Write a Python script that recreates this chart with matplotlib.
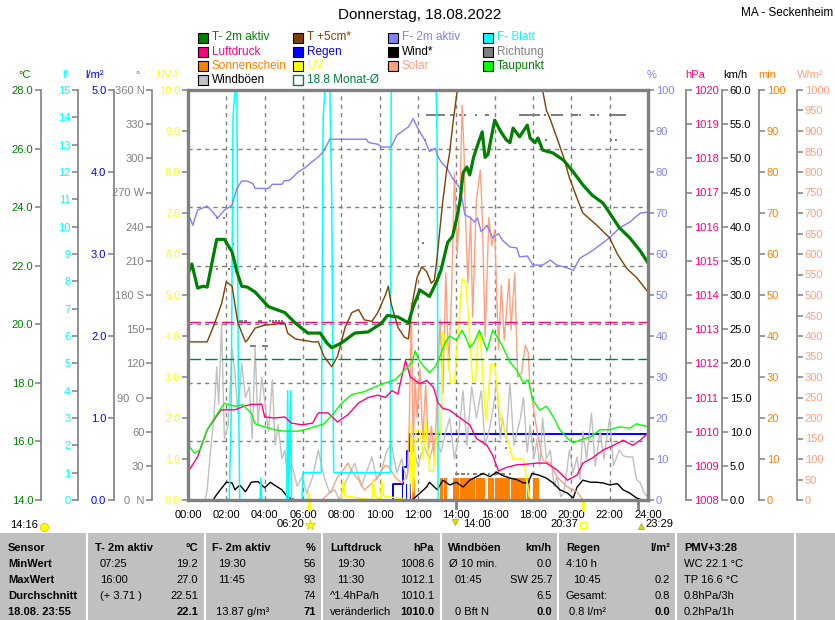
import numpy as np
import matplotlib
matplotlib.use('Agg')
import matplotlib.pyplot as plt
from matplotlib.patches import Rectangle
from matplotlib.lines import Line2D
from matplotlib.transforms import blended_transform_factory

plt.rcParams['font.family'] = ['Liberation Sans', 'DejaVu Sans']
plt.rcParams['font.size'] = 8

# ---------------- data (hours, values) ----------------
t2m_t = [0, 0.2, 0.5, 0.8, 1.0, 1.25, 1.5, 1.9, 2.3, 2.55, 2.8, 3.1, 3.5, 4.2, 5.05, 5.6, 6.25, 6.9, 7.25, 7.5,
         8.0, 8.7, 9.4, 10.1, 10.4, 10.95, 11.5, 11.75, 12.1, 12.6, 13.0, 13.2, 13.55, 13.8, 14.0, 14.2, 14.35,
         14.55, 14.7, 14.9, 15.15, 15.35, 15.5, 15.65, 16.0, 16.3, 16.6, 16.8, 16.96, 17.3, 17.7, 17.85, 18.1,
         18.26, 18.5, 19.04, 19.6, 20.1, 20.6, 21.1, 21.65, 22.0, 22.5, 23.05, 23.6, 24.0]
t2m_v = [21.7, 22.06, 21.24, 21.3, 21.27, 22.1, 22.9, 22.9, 22.47, 21.8, 21.3, 21.27, 21.1, 20.6, 20.4, 20.04,
         19.7, 19.7, 19.36, 19.2, 19.36, 19.7, 19.74, 20.04, 20.3, 20.25, 20.05, 20.6, 21.17, 20.95, 21.5, 21.85,
         22.8, 23.0, 23.56, 24.24, 25.17, 25.37, 25.1, 25.7, 26.2, 26.57, 25.7, 25.8, 26.97, 26.6, 26.3, 26.2,
         26.7, 26.4, 26.8, 26.36, 26.2, 26.36, 25.95, 25.85, 25.6, 25.2, 24.76, 24.4, 24.14, 23.8, 23.3, 22.95,
         22.5, 22.1]

t5_t = [0, 1.0, 1.4, 1.75, 2.0, 2.3, 2.6, 3.0, 3.1, 3.5, 4.0, 5.05, 5.2, 5.6, 6.5, 6.8, 7.1, 7.5, 7.8, 8.2, 8.55,
        8.9, 9.2, 9.6, 9.9, 10.3, 10.45, 10.6, 10.95, 11.3, 11.5, 11.7, 11.95, 12.2, 12.45, 12.7, 12.85, 13.0,
        13.15, 13.3, 13.5, 13.65, 13.8, 14.05, 14.6, 16.0, 17.5, 18.5, 18.7, 18.9, 19.25, 19.6, 19.9, 20.3, 20.6,
        21.3, 22.0, 22.4, 22.9, 23.4, 24.0]
t5_v = [19.4, 19.4, 20.05, 20.7, 21.45, 21.3, 20.05, 19.4, 19.46, 19.87, 19.97, 20.04, 19.7, 19.5, 19.4, 19.4,
        18.9, 18.55, 18.9, 19.9, 20.4, 20.5, 20.15, 20.1, 20.4, 21.0, 21.3, 20.7, 19.9, 19.55, 19.5, 20.7, 21.6,
        21.96, 21.8, 21.4, 21.5, 22.3, 23.3, 24.24, 25.27, 25.85, 26.74, 28.0, 30.5, 32.0, 30.5, 28.0, 27.3, 27.0,
        26.36, 25.7, 25.0, 24.3, 23.8, 23.4, 22.95, 22.4, 21.9, 21.6, 21.1]

hum_t = [0, 0.25, 0.5, 1.0, 1.3, 1.55, 1.9, 2.3, 2.55, 2.8, 3.1, 3.4, 3.5, 4.2, 4.4, 4.9, 5.0, 5.3, 5.75, 6.1, 6.45,
         6.8, 7.05, 7.25, 7.4, 8.2, 9.3, 9.4, 9.6, 9.9, 10.1, 10.6, 10.9, 11.2, 11.5, 11.75, 11.95, 12.35, 12.6,
         12.9, 13.05, 13.25, 13.5, 13.8, 14.2, 14.45, 14.7, 14.95, 15.1, 15.3, 15.6, 15.9, 16.2, 16.4, 16.8, 17.15,
         17.3, 17.7, 18.0, 18.5, 18.9, 19.25, 19.8, 20.1, 20.45, 21.0, 21.5, 22.0, 22.5, 23.05, 23.6, 24.0]
hum_v = [70, 67, 70.7, 71.7, 70.2, 68.8, 70.7, 71.9, 76, 77.8, 77.8, 77.1, 76, 76, 77, 77, 77.8, 78, 80, 81, 82.4,
         83.7, 84.9, 86.6, 88, 88, 88, 87.3, 87, 86.8, 86.1, 86.1, 89, 90, 91, 93, 91, 87.8, 85, 85.8, 83.6, 82.2,
         81, 78.5, 76, 69.5, 69, 67.8, 68.8, 65.4, 67, 63.9, 65, 63.4, 61.7, 61.5, 59.3, 59.5, 57.3, 57.3, 58.5,
         57.3, 56.6, 56, 59, 60.5, 62.2, 64, 66.3, 67.8, 70, 70.2]

dew_t = [0, 0.35, 0.6, 1.0, 1.55, 1.9, 2.45, 2.85, 3.3, 3.5, 4.0, 4.5, 5.05, 5.75, 6.1, 6.6, 7.1, 7.65, 8.0, 8.55,
         9.2, 9.75, 10.3, 10.8, 11.3, 11.7, 11.85, 12.0, 12.25, 12.6, 12.9, 13.15, 13.3, 13.5, 13.65, 14.0, 14.3,
         14.55, 14.7, 14.95, 15.2, 15.6, 15.9, 16.1, 16.4, 16.8, 17.15, 17.5, 17.75, 18.0, 18.35, 18.7, 19.05,
         19.4, 19.8, 20.1, 20.45, 21.0, 21.5, 22.0, 22.5, 23.05, 23.4, 24.0]
dew_v = [15.88, 15.6, 15.7, 16.4, 16.97, 17.3, 17.2, 17.25, 16.97, 16.6, 16.5, 16.4, 16.35, 16.35, 16.4, 16.5,
         16.6, 17.0, 17.3, 17.6, 17.7, 17.86, 18.0, 18.1, 18.44, 18.7, 19.1, 18.85, 18.6, 18.35, 18.55, 18.9,
         19.2, 19.46, 19.6, 19.46, 19.8, 19.46, 19.2, 19.4, 19.8, 19.1, 19.8, 19.6, 19.26, 18.7, 18.44, 18.0, 18.1,
         17.4, 17.07, 17.2, 16.85, 16.4, 16.1, 15.95, 16.05, 16.15, 16.4, 16.4, 16.5, 16.45, 16.6, 16.5]

pres_t = [0, 0.5, 1.0, 1.55, 1.75, 2.45, 2.85, 3.3, 3.85, 4.0, 4.5, 5.05, 5.4, 5.95, 6.5, 6.8, 7.3, 7.8, 8.35, 8.9,
          9.4, 9.9, 10.3, 10.65, 10.95, 11.15, 11.35, 11.6, 11.85, 12.1, 12.45, 12.8, 13.05, 13.3, 13.65, 14.2,
          14.7, 15.05, 15.6, 15.9, 16.2, 16.6, 17.15, 17.7, 18.2, 18.7, 19.25, 19.8, 20.3, 20.6, 21.1, 21.65,
          22.2, 22.7, 23.2, 23.6, 24.0]
pres_v = [1008.82, 1009.26, 1010.05, 1010.5, 1010.64, 1010.64, 1010.73, 1010.8, 1010.8, 1010.43, 1010.4,
          1010.43, 1010.25, 1010.2, 1010.25, 1010.55, 1010.55, 1010.28, 1010.5, 1010.84, 1011.0, 1011.07, 1011.0,
          1011.2, 1011.1, 1011.6, 1012.08, 1011.6, 1011.5, 1011.4, 1011.5, 1011.3, 1010.84, 1010.68, 1010.63,
          1010.4, 1010.2, 1009.8, 1009.6, 1009.3, 1008.85, 1008.95, 1009.03, 1009.05, 1009.08, 1009.08, 1008.88,
          1008.58, 1008.73, 1009.08, 1009.23, 1009.46, 1009.6, 1009.75, 1009.6, 1009.75, 1009.96]

gust_t = [0, 0.9, 1.0, 1.2, 1.35, 1.5, 1.6, 1.75, 1.9, 2.1, 2.3, 2.45, 2.6, 2.8, 3.0, 3.2, 3.35, 3.5, 3.65, 3.85,
          4.0, 4.2, 4.4, 4.55, 4.7, 4.9, 5.05, 5.2, 5.4, 5.7, 5.95, 6.2, 6.5, 6.8, 7.1, 7.4, 7.65, 7.9, 8.2, 8.45,
          8.7, 9.05, 9.3, 9.6, 9.85, 10.1, 10.35, 10.6, 10.9, 11.15, 11.4, 11.7, 12.0, 12.3, 12.6, 12.9, 13.2,
          13.45, 13.65, 13.9, 14.1, 14.35, 14.55, 14.8, 15.05, 15.3, 15.5, 15.75, 15.95, 16.1, 16.3, 16.4, 16.6,
          16.8, 17.0, 17.15, 17.35, 17.5, 17.7, 17.85, 18.05, 18.2, 18.35, 18.5, 18.7, 18.9, 19.1, 19.25, 19.45,
          19.6, 19.75, 19.9, 20.1, 20.3, 20.45, 20.6, 20.8, 21.05, 21.25, 21.5, 21.7, 22.0, 22.2, 22.5, 22.7,
          22.9, 23.2, 23.4, 23.6, 23.8, 24.0]
gust_v = [0, 0, 1.5, 8, 12, 19.5, 14, 25.7, 9, 11, 22, 18.6, 12.7, 20, 15, 16.6, 9, 22.4, 11, 18, 14.6, 10, 17.6,
          8, 11, 6, 7.3, 3, 5.4, 2, 3.4, 1, 3.4, 7.3, 3.4, 1, 1.5, 0, 2.5, 4, 5.4, 2, 4, 6.3, 3, 4.4, 7, 8.3, 4, 6,
          3, 7.8, 5, 8, 6, 9, 7, 10, 12, 6, 9, 16, 8, 16.6, 12, 16, 8, 10.6, 14, 17.6, 9, 12, 9, 17.1, 8, 9.8, 12,
          15, 7, 11, 6, 8.8, 5, 12, 6, 7.3, 2, 3.4, 0.5, 1, 4, 7.3, 4, 6.3, 3, 10, 6, 12.7, 5, 10, 6, 12, 5, 7.3,
          6.5, 6.3, 6.3, 3, 2.5, 1, 0.4]

wind_t = [0, 1.3, 1.55, 2.0, 2.3, 2.45, 2.7, 3.0, 3.3, 3.65, 4.0, 4.3, 4.5, 4.9, 5.2, 5.6, 11.7, 12.1, 12.45,
          12.6, 13.0, 13.3, 13.65, 14.0, 14.35, 14.7, 15.05, 15.4, 15.75, 16.1, 16.4, 16.8, 17.15, 17.5, 17.75,
          17.95, 18.35, 18.7, 19.05, 19.4, 19.8, 20.1, 20.3, 20.6, 21.0, 21.3, 21.65, 22.0, 22.4, 22.7, 23.05,
          23.4, 23.7, 24.0]
wind_v = [0, 0, 1, 2.6, 2.5, 1.5, 2.2, 1.2, 2.6, 2.7, 1.8, 2.6, 2.2, 1.5, 0.4, 0, 0, 1, 1.9, 2.6, 1.5, 2.9, 2.2,
          2.6, 1.9, 2.9, 3.4, 3.9, 3.4, 4.1, 3.6, 3.2, 3.0, 2.5, 2.5, 3.9, 3.6, 3.2, 2.5, 1.5, 1.0, 0.3, 1.9, 2.9,
          2.6, 2.6, 2.5, 2.2, 2.4, 1.5, 1.0, 0.3, 0, 0]

sol_t = [0, 7.0, 7.5, 7.8, 8.2, 8.35, 8.55, 8.9, 9.2, 9.6, 9.9, 10.3, 10.5, 10.8, 11.15, 11.45, 11.55, 11.65,
         11.75, 11.85, 11.95, 12.1, 12.25, 12.4, 12.55, 12.7, 12.85, 13.0, 13.15, 13.3, 13.45, 13.6, 13.75, 13.9,
         14.05, 14.2, 14.3, 14.4, 14.45, 14.6, 14.75, 14.85, 15.05, 15.25, 15.35, 15.5, 15.7, 15.85, 16.0, 16.2,
         16.35, 16.5, 16.75, 16.85, 17.05, 17.2, 17.4, 17.6, 17.75, 17.85, 17.95, 18.2, 18.5, 18.9, 19.25, 19.8,
         20.3, 20.6, 24.0]
sol_v = [0, 0, 24, 56, 80, 90, 70, 49, 24, 41, 56, 85, 80, 56, 41, 60, 200, 480, 120, 300, 200, 320, 150, 280,
         120, 180, 100, 250, 440, 260, 554, 320, 500, 797, 600, 756, 963, 850, 732, 529, 690, 446, 732, 805, 700,
         398, 690, 620, 659, 366, 524, 390, 540, 415, 554, 300, 310, 378, 360, 268, 250, 170, 98, 90, 56, 32, 20,
         0, 0]

uv_t = [0, 6.25, 6.3, 6.35, 8.0, 8.1, 8.2, 9.6, 9.65, 9.75, 10.05, 10.1, 10.2, 11.55, 11.65, 11.75, 11.9, 12.1,
        12.25, 12.4, 12.6, 12.8, 13.0, 13.2, 13.3, 13.5, 13.7, 13.9, 14.1, 14.3, 14.5, 14.65, 14.85, 15.0, 15.15,
        15.25, 15.4, 15.55, 15.8, 16.0, 16.3, 16.6, 16.95, 17.5, 17.8, 17.9, 24.0]
uv_v = [0, 0, 0.2, 0, 0, 0.5, 0.1, 0, 0.5, 0.1, 0, 0.5, 0.1, 0, 1.9, 0.2, 1.7, 1.7, 1.0, 1.95, 0.7, 0.7, 1.7, 1.6,
        4.1, 3.8, 2.85, 2.85, 4.1, 5.4, 5.3, 4.3, 2.9, 2.9, 4.1, 4.0, 2.85, 1.95, 3.3, 3.3, 2.0, 1.6, 1.0, 1.0,
        0.1, 0, 0]

leaf_t = [0, 2.15, 2.25, 2.35, 2.45, 2.55, 2.62, 2.7, 3.75, 3.8, 3.85, 5.15, 5.2, 5.25, 5.35, 5.4, 5.95, 6.0, 6.95,
          7.05, 7.15, 7.4, 7.5, 7.6, 10.55, 10.6, 12.95, 13.0, 13.05, 24.0]
leaf_v = [0, 0, 3, 14, 15, 15, 5, 0, 0, 0.8, 0, 0, 4, 0, 4, 0, 0, 1, 1, 14, 15, 15, 11, 1, 1, 15, 15, 13, 0, 0]

rain_ev_t = [10.7, 11.2, 11.4, 11.6]
rain_ev_v = [0.2, 0.2, 0.2, 0.2]

sun_start = [11.667, 13.167, 13.333, 13.833, 14.0, 14.167, 14.333, 14.5, 14.667, 14.833, 15.0, 15.167, 15.333,
             15.667, 15.833, 16.0, 16.167, 16.333, 16.5, 16.667, 16.833, 17.0, 17.167, 17.333, 17.5, 17.667,
             18.0, 18.167]
sun_min = [5.4] * 28

dir_t = [1.5, 1.9, 2.0, 2.35, 1.5, 2.15, 3.5,
         2.7, 2.8, 2.95, 3.05, 3.7, 3.8, 4.3, 4.45, 4.6, 4.75, 4.9,
         3.3, 3.4, 3.5, 3.9, 4.0, 4.1,
         12.25, 12.35,
         12.45, 12.55, 12.65, 12.75, 12.85, 12.95, 13.05, 13.15, 13.25, 13.35, 13.7, 13.8, 14.2, 14.45, 15.05,
         15.55, 15.65, 17.3, 17.4, 17.5, 17.6, 17.7, 17.8, 17.9, 18.0, 18.1, 18.2, 18.3, 18.6, 19.0, 19.1, 19.2,
         19.3, 19.4, 19.5, 20.1, 20.2, 20.3, 20.45, 21.0, 21.1, 21.2, 21.4, 22.0, 22.1, 22.2, 22.3, 22.4, 22.5,
         22.6, 22.7, 22.8,
         18.7, 22.05, 22.35,
         14.7, 16.6,
         14.0, 14.1, 14.3, 14.4, 14.6, 14.9, 15.0, 15.3, 15.4, 15.7, 16.0, 16.1, 16.4, 16.5, 16.8]
dir_deg = [248, 248, 225, 225, 203, 203, 203,
           157, 157, 157, 157, 157, 157, 157, 157, 157, 157, 157,
           135, 135, 135, 135, 135, 135,
           226, 316] + [338] * 52 + [316, 316, 316, 46, 46] + [23] * 15

temp_month_avg = 18.8
pres_month_avg = 1013.2

# ---------------- layout ----------------
W, H = 835, 620
L, R, T, B = 188, 648, 90, 500
fig = plt.figure(figsize=(W / 100, H / 100), dpi=100)
fig.patch.set_facecolor('white')


def FX(px):
    return px / W


def FY(py):
    return 1 - py / H


ax0 = fig.add_axes([L / W, 1 - B / H, (R - L) / W, (B - T) / H])
ax0.set_xlim(0, 24)
ax0.set_ylim(14, 28)
ax0.set_yticks([])
for s in ax0.spines.values():
    s.set_visible(False)
ax0.set_xticks(np.arange(0, 25, 2))
ax0.set_xticklabels(['%02d:00' % h for h in range(0, 25, 2)])
ax0.tick_params(axis='x', length=0, pad=7, labelsize=8)
grid_kw = dict(color='#808080', lw=1, ls=(0, (3, 3)))
for h in range(2, 24, 2):
    ax0.axvline(h, **grid_kw)
for v in range(16, 28, 2):
    ax0.axhline(v, **grid_kw)

GRAY = '#808080'


def make_axis(side, px, lim, ticks, labels, color):
    a = ax0.twinx()
    a.set_xlim(0, 24)
    a.set_ylim(*lim)
    for s in a.spines.values():
        s.set_visible(False)
    sp = a.spines[side]
    sp.set_position(('axes', (px - L) / (R - L)))
    if px not in (L, R):
        sp.set_visible(True)
        sp.set_color(GRAY)
        sp.set_linewidth(1.2)
    if side == 'left':
        a.yaxis.tick_left()
    else:
        a.yaxis.tick_right()
    a.set_yticks(ticks)
    a.set_yticklabels(labels)
    a.tick_params(axis='y', color=GRAY, labelcolor=color, length=4.5, width=1.1, pad=1, labelsize=8,
                  direction='out')
    return a


# axes in drawing order (back to front)
ax_sun = make_axis('right', 759, (0, 100), list(range(0, 101, 10)), [str(v) for v in range(0, 101, 10)], '#ff8000')
ax_rain = make_axis('left', 114, (0, 5), list(range(0, 6)), ['%.1f' % v for v in range(0, 6)], '#0000ff')
ax_dir = make_axis('left', 152, (0, 360), list(range(0, 361, 30)),
                   ['0  N', '30', '60', '90  O', '120', '150', '180 S', '210', '240', '270 W', '300', '330', '360 N'],
                   GRAY)
ax_kmh = make_axis('right', 722, (0, 60), list(range(0, 61, 5)), ['%.1f' % v for v in range(0, 61, 5)], '#000000')
ax_sol = make_axis('right', 797, (0, 1000), list(range(0, 1001, 50)), [str(v) for v in range(0, 1001, 50)], '#ffa080')
ax_uv = make_axis('left', L, (0, 10), list(range(0, 11)), ['%.1f' % v for v in range(0, 11)], '#ffff00')
ax_lf = make_axis('left', 78, (0, 15), list(range(0, 16)), [str(v) for v in range(0, 16)], '#00ffff')
ax_hpa = make_axis('right', 686, (1008, 1020), list(range(1008, 1021)), [str(v) for v in range(1008, 1021)], '#ff0080')
ax_pct = make_axis('right', R, (0, 100), list(range(0, 101, 10)), [str(v) for v in range(0, 101, 10)], '#8080ff')
ax_T = make_axis('left', 41, (14, 28), list(range(14, 29, 2)), ['%.1f' % v for v in range(14, 29, 2)], '#008000')

# sunshine bars
ax_sun.bar(sun_start, sun_min, width=1 / 6 - 0.01, align='edge', color='#ff8000', lw=0)
# rain bars and cumulative
ax_rain.bar(rain_ev_t, rain_ev_v, width=0.07, color='#0000ff', lw=0)
rt = [0] + rain_ev_t + [24]
rc = [0] + list(np.cumsum(rain_ev_v)) + [float(np.sum(rain_ev_v))]
ax_rain.step(rt, rc, where='post', color='#0000ff', lw=1.4)
# direction
ax_dir.plot(dir_t, dir_deg, ls='none', marker='s', ms=1.8, color=GRAY, mew=0)
# gusts and wind
ax_kmh.plot(gust_t, gust_v, color='#c0c0c0', lw=1)
ax_kmh.plot(wind_t, wind_v, color='#000000', lw=1)
# solar
ax_sol.plot(sol_t, sol_v, color='#ffa080', lw=1)
# UV
ax_uv.plot(uv_t, uv_v, color='#ffff00', lw=1.1)
# leaf wetness
ax_lf.plot(leaf_t, leaf_v, color='#00ffff', lw=1.1)
# pressure and monthly avg
ax_hpa.plot(pres_t, pres_v, color='#ff0080', lw=1)
ax_hpa.axhline(pres_month_avg, color='#ff0080', lw=1, ls=(0, (9, 3)))
# humidity
ax_pct.plot(hum_t, hum_v, color='#8080ff', lw=1)
# temperatures
ax_T.axhline(temp_month_avg, color='#008040', lw=1, ls=(0, (9, 3)))
ax_T.plot(dew_t, dew_v, color='#00ff00', lw=1)
ax_T.plot(t5_t, t5_v, color='#804000', lw=1)
ax_T.plot(t2m_t, t2m_v, color='#008000', lw=2.3)

# frame on top
fr = ax0.twinx()
fr.set_ylim(0, 1)
fr.set_yticks([])
for s in fr.spines.values():
    s.set_visible(True)
    s.set_color(GRAY)
    s.set_linewidth(2.4)

# special x markers (sun / moon)
tr = blended_transform_factory(ax0.transData, ax0.transAxes)
for tt, col, ln in [(6.333, '#ffff00', 0.025), (20.617, '#ffff00', 0.025), (14.0, GRAY, 0.02), (23.483, GRAY, 0.02)]:
    ax0.add_line(Line2D([tt, tt], [0, -ln], transform=tr, color=col, lw=2, clip_on=False))

# ---------------- texts ----------------
fig.text(FX(420), FY(15), 'Donnerstag, 18.08.2022', ha='center', va='center', fontsize=11)
fig.text(FX(833), FY(13), 'MA - Seckenheim', ha='right', va='center', fontsize=8.5)

units = [(25, '°C', '#008000'), (65, 'lf', '#00ffff'), (95, 'l/m²', '#0000ff'), (138, '°', GRAY),
         (167, 'UV-I', '#ffff00'), (652, '%', '#8080ff'), (695, 'hPa', '#ff0080'), (735, 'km/h', '#000000'),
         (767, 'min', '#ff8000'), (810, 'W/m²', '#ffa080')]
for x, s, c in units:
    fig.text(FX(x), FY(75), s, ha='center', va='center', color=c, fontsize=8)

legend = [
    (198, 37.5, '#008000', 'T- 2m aktiv', '#008000', True),
    (198, 52, '#ff0080', 'Luftdruck', '#ff0080', True),
    (198, 66, '#ff8000', 'Sonnenschein', '#ff8000', True),
    (198, 80, '#c0c0c0', 'Windböen', '#000000', True),
    (293, 37.5, '#804000', 'T +5cm*', '#804000', True),
    (293, 52, '#0000ff', 'Regen', '#0000ff', True),
    (293, 66, '#ffff00', 'UV', '#ffff00', True),
    (293, 80, '#008040', '18.8 Monat-Ø', '#008040', False),
    (388, 37.5, '#8080ff', 'F- 2m aktiv', '#8080ff', True),
    (388, 52, '#000000', 'Wind*', '#000000', True),
    (388, 66, '#ffa080', 'Solar', '#ffa080', True),
    (483, 37.5, '#00ffff', 'F- Blatt', '#00ffff', True),
    (483, 52, '#808080', 'Richtung', '#808080', True),
    (483, 66, '#00ff00', 'Taupunkt', '#008000', True),
]
for x, y, c, s, tc, filled in legend:
    if filled:
        fig.patches.append(Rectangle((FX(x), FY(y + 5)), 10 / W, 10 / H, transform=fig.transFigure,
                                     facecolor=c, edgecolor='black', lw=0.8))
    else:
        fig.patches.append(Rectangle((FX(x), FY(y + 5)), 10 / W, 10 / H, transform=fig.transFigure,
                                     facecolor='none', edgecolor=c, lw=1.0))
    fig.text(FX(x + 14), FY(y), s, ha='left', va='center', color=tc, fontsize=8.5)

# sun / moon annotations below axis
fig.text(FX(10), FY(525), '14:16', ha='left', va='center', fontsize=8)
fig.text(FX(277), FY(524), '06:20', ha='left', va='center', fontsize=8)
fig.text(FX(463), FY(524), '14:00', ha='left', va='center', fontsize=8)
fig.text(FX(550), FY(524), '20:37', ha='left', va='center', fontsize=8)
fig.text(FX(645), FY(524), '23:29', ha='left', va='center', fontsize=8)
fig.add_artist(Line2D([FX(44)], [FY(527)], marker='o', ms=6, color='#ffff00', mec='#e0c000', mew=0.5,
                      transform=fig.transFigure))
fig.add_artist(Line2D([FX(310)], [FY(525)], marker='*', ms=8, color='#ffff00', mec='#e0c000', mew=0.5,
                      transform=fig.transFigure))
fig.add_artist(Line2D([FX(455)], [FY(522)], marker='v', ms=5, color='#e0e000', mec='#a0a000', mew=0.5,
                      transform=fig.transFigure))
fig.add_artist(Line2D([FX(583)], [FY(525)], marker='s', ms=4, color='none', mec='#ffff00', mew=1,
                      transform=fig.transFigure))
fig.add_artist(Line2D([FX(641)], [FY(526)], marker='^', ms=5, color='#e0e000', mec='#a0a000', mew=0.5,
                      transform=fig.transFigure))

# ---------------- table ----------------
fig.patches.append(Rectangle((0, 0), 1, FY(533), transform=fig.transFigure, facecolor='#c0c0c0',
                             edgecolor='none'))
for x in [87, 205, 322, 441, 558, 676, 795]:
    fig.add_artist(Line2D([FX(x), FX(x)], [FY(533), 0], color='white', lw=1.5, transform=fig.transFigure))

rows_y = [548, 564, 580, 596, 612]
col1 = ['Sensor', 'MinWert', 'MaxWert', 'Durchschnitt', '18.08. 23:55']
for y, s in zip(rows_y, col1):
    fig.text(FX(8), FY(y), s, ha='left', va='center', fontweight='bold', fontsize=8)

table_cols = [
    (95, 198, 'T- 2m aktiv', '°C', [('07:25', 5, '19.2', False), ('16:00', 5, '27.0', False),
                                   ('(+ 3.71 )', 5, '22.51', False), ('', 0, '22.1', True)]),
    (212, 316, 'F- 2m aktiv', '%', [('19:30', 6, '56', False), ('11:45', 6, '93', False),
                                   ('', 0, '74', False), ('13.87 g/m³', 4, '71', True)]),
    (330, 434, 'Luftdruck', 'hPa', [('19:30', 7, '1008.6', False), ('11:30', 7, '1012.1', False),
                                    ('^1.4hPa/h', 0, '1010.1', False), ('veränderlich', 0, '1010.0', True)]),
    (448, 552, 'Windböen', 'km/h', [('Ø 10 min.', 1, '0.0', False), ('01:45', 7, 'SW 25.7', False),
                                    ('', 0, '6.5', False), ('0 Bft N', 7, '0.0', True)]),
    (566, 670, 'Regen', 'l/m²', [('4:10 h', 0, '', False), ('10:45', 7, '0.2', False),
                                 ('Gesamt:', 0, '0.8', False), ('0.8 l/m²', 3, '0.0', True)]),
]
for lx, rx, head, unit, rows in table_cols:
    fig.text(FX(lx), FY(rows_y[0]), head, ha='left', va='center', fontweight='bold', fontsize=8)
    fig.text(FX(rx), FY(rows_y[0]), unit, ha='right', va='center', fontweight='bold', fontsize=8)
    for y, (lt, off, rt_, bold) in zip(rows_y[1:], rows):
        if lt:
            fig.text(FX(lx + off), FY(y), lt, ha='left', va='center', fontsize=8)
        if rt_:
            fig.text(FX(rx), FY(y), rt_, ha='right', va='center', fontsize=8,
                     fontweight='bold' if bold else 'normal')

pmv = ['PMV+3:28', 'WC 22.1 °C', 'TP 16.6 °C', '0.8hPa/3h', '0.2hPa/1h']
for i, (y, s) in enumerate(zip(rows_y, pmv)):
    fig.text(FX(684), FY(y), s, ha='left', va='center', fontsize=8, fontweight='bold' if i == 0 else 'normal')

fig.savefig('out.png', dpi=100)
